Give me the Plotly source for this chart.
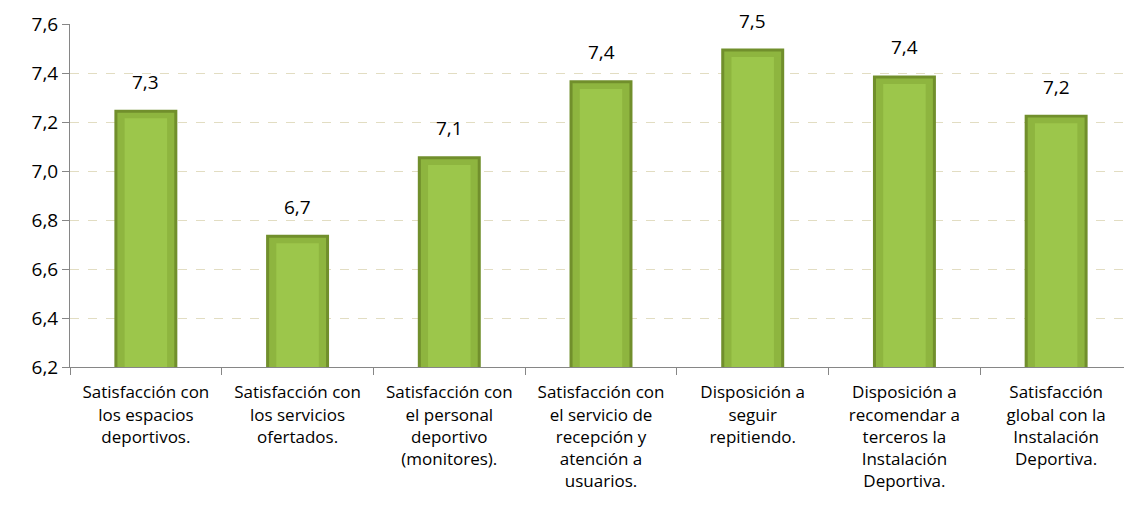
import plotly.graph_objects as go

categories = [
    "Satisfacción con<br>los espacios<br>deportivos.",
    "Satisfacción con<br>los servicios<br>ofertados.",
    "Satisfacción con<br>el personal<br>deportivo<br>(monitores).",
    "Satisfacción con<br>el servicio de<br>recepción y<br>atención a<br>usuarios.",
    "Disposición a<br>seguir<br>repitiendo.",
    "Disposición a<br>recomendar a<br>terceros la<br>Instalación<br>Deportiva.",
    "Satisfacción<br>global con la<br>Instalación<br>Deportiva.",
]
values = [7.25, 6.74, 7.06, 7.37, 7.50, 7.39, 7.23]
value_labels = ["7,3", "6,7", "7,1", "7,4", "7,5", "7,4", "7,2"]
y_ticks = [6.2, 6.4, 6.6, 6.8, 7.0, 7.2, 7.4, 7.6]

FONT = "'Open Sans', Lato, sans-serif"
BASE = 6.2

fig = go.Figure()
# dark outer shell, gives the bevelled edge
fig.add_trace(go.Bar(
    x=categories, y=[v - BASE for v in values], base=BASE, width=0.415,
    marker=dict(color="#718F2C", line=dict(width=0)), hoverinfo="skip",
))
# lighter face
fig.add_trace(go.Bar(
    x=categories, y=[v - BASE - 0.012 for v in values], base=BASE, width=0.375,
    marker=dict(color="#8EB53F", line=dict(width=0)), hoverinfo="skip",
))
# highlight down the middle
fig.add_trace(go.Bar(
    x=categories, y=[v - BASE - 0.035 for v in values], base=BASE, width=0.28,
    marker=dict(color="#9CC64B", line=dict(width=0)),
    hovertemplate="%{y:.2f}<extra></extra>",
))

for cat, v, lab in zip(categories, values, value_labels):
    fig.add_annotation(x=cat, y=v, text=lab, showarrow=False, yanchor="bottom",
                       yshift=13, font=dict(family=FONT, size=19, color="#000000"))

fig.update_layout(
    width=1124, height=493,
    margin=dict(l=62, r=0, t=16, b=134),
    paper_bgcolor="white", plot_bgcolor="white",
    barmode="overlay", showlegend=False, separators=",.",
    font=dict(family=FONT, color="#000000"),
)
fig.update_yaxes(
    range=[6.2, 7.6], tickvals=y_ticks, tickformat=".1f",
    showline=True, linecolor="#868686", linewidth=1,
    ticks="outside", ticklen=7, tickcolor="#868686",
    showgrid=True, gridcolor="#E2DDC2", griddash="dash", gridwidth=1,
    tickfont=dict(family=FONT, size=19, color="#000000"), zeroline=False,
)
fig.update_xaxes(
    range=[-0.5, 6.5], showline=True, linecolor="#868686", linewidth=1,
    ticks="outside", ticklen=7, tickcolor="#868686", tickson="boundaries",
    tickfont=dict(family=FONT, size=17, color="#000000"), tickangle=0,
    ticklabelstandoff=10, showgrid=False,
)

fig.write_html("out.html")
